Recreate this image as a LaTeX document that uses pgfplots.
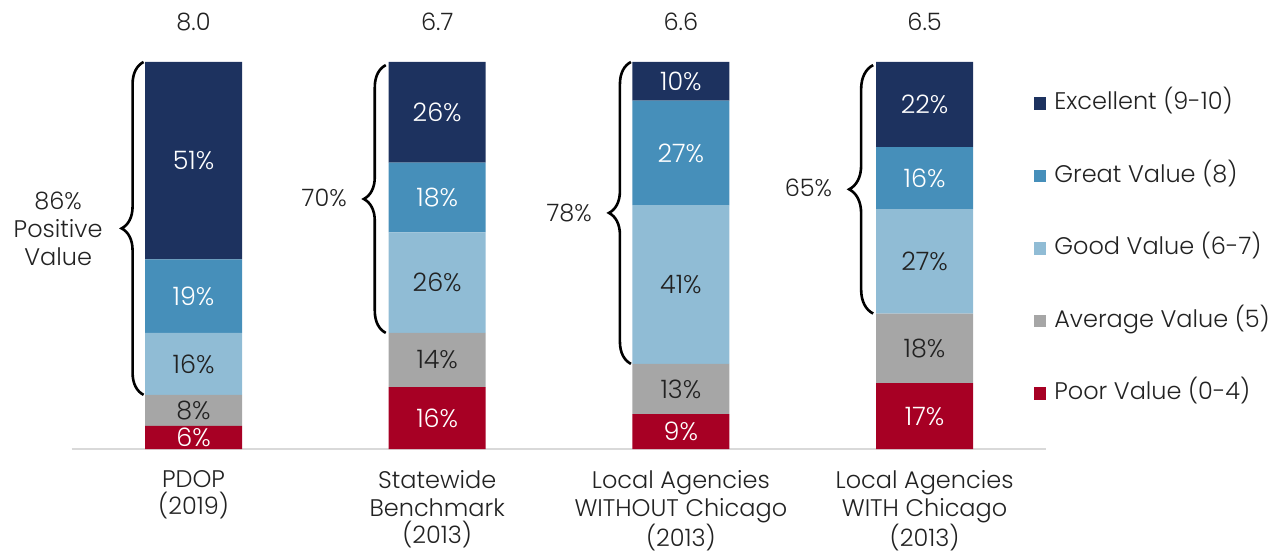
\documentclass[border=0pt]{standalone}
\usepackage{pgfplots}
\pgfplotsset{compat=1.18}
\usepackage{fontspec}
\setmainfont{Poppins}[UprightFont=* Light]
\usetikzlibrary{decorations.pathreplacing}
\definecolor{cExc}{HTML}{1D325F}
\definecolor{cGreat}{HTML}{468FBA}
\definecolor{cGood}{HTML}{90BCD5}
\definecolor{cAvg}{HTML}{A6A6A6}
\definecolor{cPoor}{HTML}{A70024}
\definecolor{txt}{HTML}{222222}
\begin{document}
\begin{tikzpicture}[font=\fontsize{12}{14}\selectfont, text=txt]
\useasboundingbox (-35.85pt,-51.5pt) rectangle (605.65pt,224.5pt);
\begin{axis}[
  at={(0,0)}, anchor=south west,
  scale only axis, width=487.35pt, height=193.5pt,
  ybar stacked, bar width=48.5pt,
  xmin=-0.5, xmax=3.5, ymin=0, ymax=100,
  axis x line*=bottom, axis y line=none,
  x axis line style={draw=black!15, line width=1pt, -},
  xtick={0,1,2,3},
  xticklabels={PDOP\\(2019), Statewide\\Benchmark\\(2013), Local Agencies\\WITHOUT Chicago\\(2013), Local Agencies\\WITH Chicago\\(2013)},
  xticklabel style={align=center, anchor=north, inner sep=0pt, yshift=-10.5pt, font=\fontsize{12}{13.8}\selectfont, text=txt},
  major tick length=0pt,
  clip=false,
  visualization depends on={rawy \as \rawy},
  nodes near coords={\pgfmathprintnumber[fixed, precision=0, assume math mode=true]{\rawy}\%},
  every node near coord/.append style={anchor=center, font=\fontsize{12.7}{14}\selectfont, text=txt},
  reverse legend,
  legend cell align=left,
  legend image code/.code={\fill[#1] (0pt,-3.15pt) rectangle (6.3pt,3.15pt);},
  legend style={at={(rel axis cs:0.987,0.9235)}, anchor=north west, draw=none, fill=none, inner sep=0pt, outer sep=0pt, row sep=24.25pt, nodes={inner sep=0pt, text height=9pt, text depth=3pt, text=txt}, /tikz/every odd column/.append style={column sep=4pt}, font=\fontsize{12}{14}\selectfont},
]
\addplot[fill=cPoor, draw=none, every node near coord/.append style={text=white}] coordinates {(0,6) (1,16) (2,9) (3,17)};
\addlegendentry{Poor Value (0-4)}
\addplot[fill=cAvg, draw=none] coordinates {(0,8) (1,14) (2,13) (3,18)};
\addlegendentry{Average Value (5)}
\addplot[fill=cGood, draw=none] coordinates {(0,16) (1,26) (2,41) (3,27)};
\addlegendentry{Good Value (6-7)}
\addplot[fill=cGreat, draw=none, every node near coord/.append style={text=white}] coordinates {(0,19) (1,18) (2,27) (3,16)};
\addlegendentry{Great Value (8)}
\addplot[fill=cExc, draw=none, every node near coord/.append style={text=white}] coordinates {(0,51) (1,26) (2,10) (3,22)};
\addlegendentry{Excellent (9-10)}

\draw[decorate, decoration={brace, amplitude=11pt}, line width=1.3pt, black] (axis cs:-0.205,14) -- (axis cs:-0.205,100);
\draw[decorate, decoration={brace, amplitude=11pt}, line width=1.3pt, black] (axis cs:0.789,30) -- (axis cs:0.789,99.2);
\draw[decorate, decoration={brace, amplitude=11pt}, line width=1.3pt, black] (axis cs:1.795,22) -- (axis cs:1.795,100);
\draw[decorate, decoration={brace, amplitude=12pt}, line width=1.3pt, black] (axis cs:2.789,35) -- (axis cs:2.789,99.2);

\node[anchor=east, align=center, xshift=-17pt] at (axis cs:-0.205,57) {86\%\\Positive\\Value};
\node[anchor=east, xshift=-16pt] at (axis cs:0.789,65) {70\%};
\node[anchor=east, xshift=-16pt] at (axis cs:1.795,61) {78\%};
\node[anchor=east, xshift=-17pt] at (axis cs:2.789,67.5) {65\%};

\node at (axis cs:0,110.3) {8.0};
\node at (axis cs:1,110.3) {6.7};
\node at (axis cs:2,110.3) {6.6};
\node at (axis cs:3,110.3) {6.5};
\end{axis}
\end{tikzpicture}
\end{document}
